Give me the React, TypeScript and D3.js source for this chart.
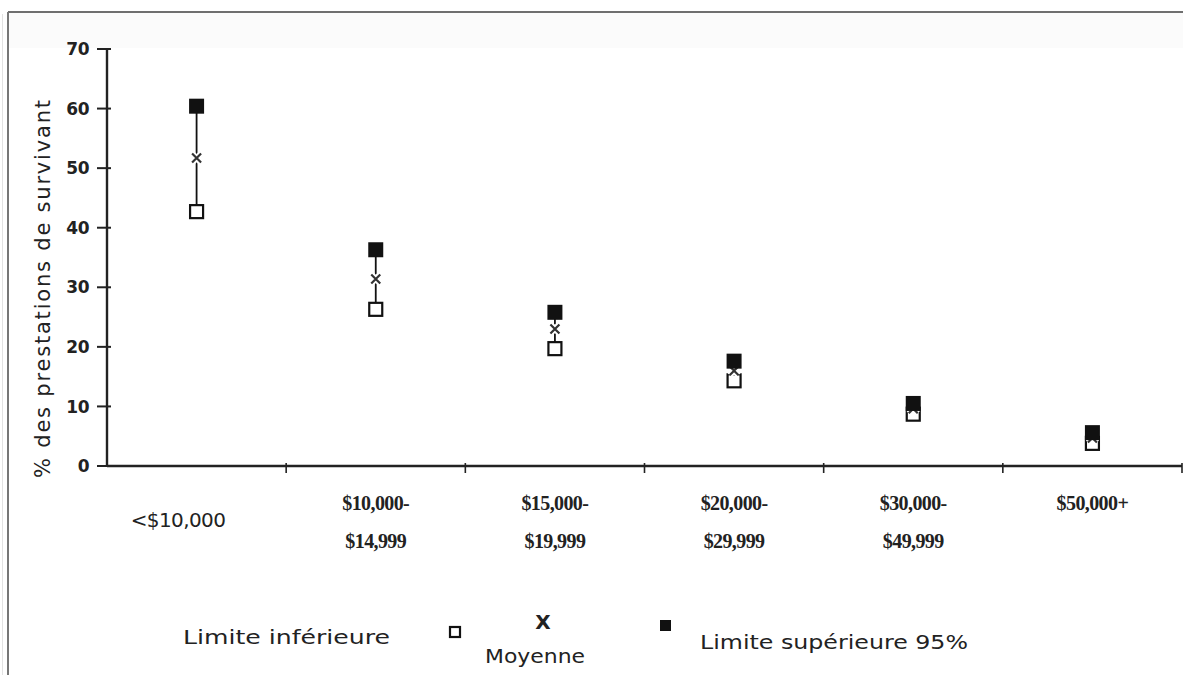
import * as d3 from "d3";

// income bands (two-line labels for the x axis)
const categories = ["<$10,000", "$10,000-$14,999", "$15,000-$19,999", "$20,000-$29,999", "$30,000-$49,999", "$50,000+"];
const labelLines = [["<$10,000"], ["$10,000-", "$14,999"], ["$15,000-", "$19,999"], ["$20,000-", "$29,999"], ["$30,000-", "$49,999"], ["$50,000+"]];

// % des prestations de survivant
const lower = [42.7, 26.3, 19.7, 14.3, 8.7, 3.8];
const mean = [51.7, 31.4, 23.0, 16.0, 9.6, 4.7];
const upper = [60.4, 36.3, 25.8, 17.6, 10.5, 5.6];

const yTicks = [0, 10, 20, 30, 40, 50, 60, 70];

const W = 1183;
const H = 675;

export default function App() {
  const x = d3.scaleBand<string>().domain(categories).range([107, 1182]);
  const y = d3.scaleLinear().domain([0, 70]).range([466, 49]);
  const bw = x.bandwidth();
  const cx = (c: string) => (x(c) || 0) + bw / 2;
  const sq = 15;
  const ink = "#111";
  const sans = "DejaVu Sans";

  return (
    <svg width={W} height={H} style={{ position: "absolute", left: 0, top: 0, background: "#fff" }}>
      {/* frame */}
      <rect x={9} y={13} width={W - 9} height={35} fill="#fbfbfb" />
      <line x1={8} x2={W} y1={12} y2={12} stroke="#6f6f6f" strokeWidth={2} />
      <line x1={8} x2={8} y1={12} y2={H} stroke="#777" strokeWidth={2} />
      <line x1={2.5} x2={2.5} y1={14} y2={H} stroke="#e2e2e2" strokeWidth={1} />

      {/* y axis */}
      <line x1={107} x2={107} y1={y(70)} y2={y(0)} stroke="#222" strokeWidth={2.4} />
      {yTicks.map((t) => (
        <g key={t}>
          <line x1={97} x2={111} y1={y(t)} y2={y(t)} stroke="#222" strokeWidth={2} />
          <text x={89} y={y(t)} dy="0.36em" textAnchor="end" fontFamily={sans} fontWeight="bold" fontSize={17} letterSpacing={-0.5} fill="#222">
            {t}
          </text>
        </g>
      ))}
      <text
        transform={`translate(50,289) rotate(-90)`}
        textAnchor="middle"
        fontFamily={sans}
        fontSize={21}
        fill="#222"
        textLength={378}
        lengthAdjust="spacing"
      >
        % des prestations de survivant
      </text>

      {/* x axis */}
      <line x1={107} x2={1182} y1={y(0)} y2={y(0)} stroke="#222" strokeWidth={2.4} />
      {categories.map((c) => (
        <line key={c} x1={(x(c) || 0) + bw} x2={(x(c) || 0) + bw} y1={y(0) - 3} y2={y(0) + 7} stroke="#222" strokeWidth={1.6} />
      ))}
      {categories.map((c, i) =>
        i === 0 ? (
          <text key={c} x={178} y={520} dy="0.36em" textAnchor="middle" fontFamily={sans} fontSize={20} fill="#222" letterSpacing={-0.6}>
            {labelLines[i][0]}
          </text>
        ) : (
          <text key={c} textAnchor="middle" fontFamily="Liberation Serif" fontWeight="bold" fontSize={20} letterSpacing={-0.6} fill="#222">
            {labelLines[i].map((l, k) => (
              <tspan key={k} x={cx(c)} y={503 + k * 38} dy="0.36em">
                {l}
              </tspan>
            ))}
          </text>
        )
      )}

      {/* interval lines */}
      {categories.map((c, i) => (
        <line key={c} x1={cx(c)} x2={cx(c)} y1={y(upper[i])} y2={y(lower[i])} stroke={ink} strokeWidth={1.8} />
      ))}
      {/* lower limit */}
      {categories.map((c, i) => (
        <rect key={c} x={cx(c) - sq / 2 + 1} y={y(lower[i]) - sq / 2 + 1} width={sq - 2} height={sq - 2} fill="#fff" stroke={ink} strokeWidth={2.2} />
      ))}
      {/* mean */}
      {categories.map((c, i) => {
        const px = cx(c);
        const py = y(mean[i]);
        const s = 4.5;
        const d = `M${px - s},${py - s}L${px + s},${py + s}M${px - s},${py + s}L${px + s},${py - s}`;
        return (
          <g key={c}>
            <path d={d} stroke="#fff" strokeWidth={6} />
            <path d={d} stroke="#333" strokeWidth={2.2} />
          </g>
        );
      })}
      {/* upper limit */}
      {categories.map((c, i) => (
        <rect key={c} x={cx(c) - sq / 2} y={y(upper[i]) - sq / 2} width={sq} height={sq} fill={ink} />
      ))}

      {/* legend */}
      <text x={183} y={637} dy="0.36em" fontFamily={sans} fontSize={20} fill="#222" textLength={207} lengthAdjust="spacingAndGlyphs">
        Limite inférieure
      </text>
      <rect x={450} y={627} width={10} height={10} fill="#fff" stroke={ink} strokeWidth={2.2} />
      <text x={543} y={622} dy="0.36em" textAnchor="middle" fontFamily={sans} fontWeight="bold" fontSize={20} fill="#222">
        X
      </text>
      <text x={485} y={656} dy="0.36em" fontFamily={sans} fontSize={20} fill="#222" textLength={100} lengthAdjust="spacingAndGlyphs">
        Moyenne
      </text>
      <rect x={660} y={620} width={11} height={11} fill={ink} />
      <text x={700} y={642} dy="0.36em" fontFamily={sans} fontSize={20} fill="#222" textLength={268} lengthAdjust="spacingAndGlyphs">
        Limite supérieure 95%
      </text>
    </svg>
  );
}
